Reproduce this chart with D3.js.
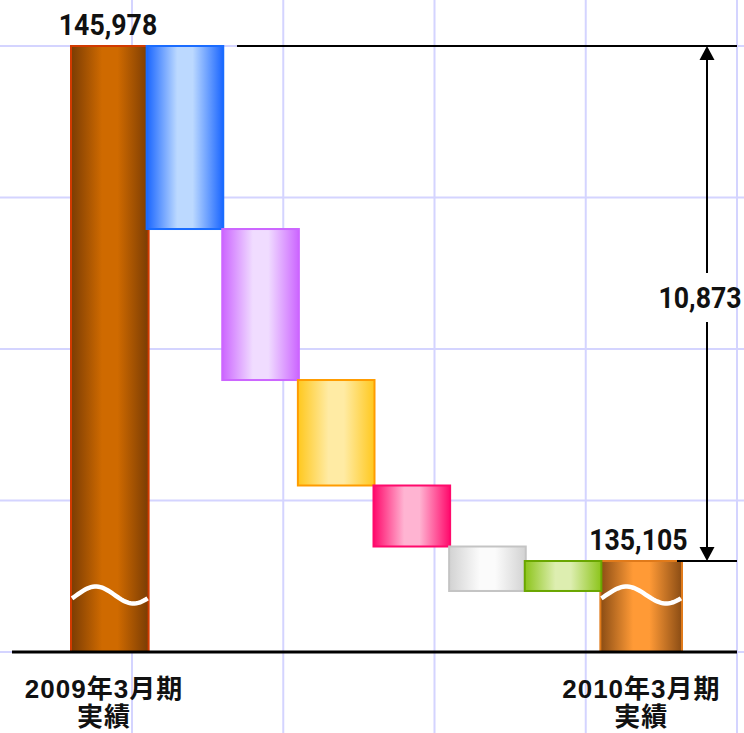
<!DOCTYPE html>
<html>
<head>
<meta charset="utf-8">
<script src="https://cdn.jsdelivr.net/npm/d3@7"></script>
<style>
  body { margin: 0; background: #fff; }
  svg { display: block; }
</style>
</head>
<body>
<svg width="744" height="733"></svg>
<script>
var svg = d3.select('svg');

// data
var startLabel = ['2009年3月期', '実績'];
var endLabel = ['2010年3月期', '実績'];
var startValue = 145978;
var endValue = 135105;
var changes = [-3864, -3188, -2227, -1288, -939, 633];
var stepColors = [
    {edge: '#1a66ff', mid: '#bcd9ff', line: '#1a6cff'},
    {edge: '#cc66ff', mid: '#f0dcff', line: '#cc66ff'},
    {edge: '#ffc81e', mid: '#ffeba4', line: '#ff9c00'},
    {edge: '#ff0a6c', mid: '#ffb4d2', line: '#ff0a6c'},
    {edge: '#d2d2d2', mid: '#fbfbfb', line: '#c4c4c4'},
    {edge: '#8cc41a', mid: '#ddeeb0', line: '#6aa600'}
];

var baseY = 652;

// y scale (axis is broken, bars are cut with a wave)
var y = d3.scaleLinear()
    .domain([endValue, startValue])
    .range([561, 46]);

var x = d3.scaleBand()
    .domain(d3.range(8))
    .range([71, 676])
    .padding(0);

// decorative grid
var gx = d3.scaleLinear().domain([0, 4]).range([132, 737]);
var gy = d3.scaleLinear().domain([0, 4]).range([652, 46]);

svg.selectAll('.vgrid')
    .data(d3.range(5))
    .enter()
    .append('line')
    .attr('x1', function(d){ return gx(d); })
    .attr('x2', function(d){ return gx(d); })
    .attr('y1', 0)
    .attr('y2', 733)
    .attr('stroke', '#d4d4ff')
    .attr('stroke-width', 2);

svg.selectAll('.hgrid')
    .data(d3.range(5))
    .enter()
    .append('line')
    .attr('x1', 0)
    .attr('x2', 744)
    .attr('y1', function(d){ return gy(d); })
    .attr('y2', function(d){ return gy(d); })
    .attr('stroke', '#d4d4ff')
    .attr('stroke-width', 2);

// gradients
var defs = svg.append('defs');
function makeGrad(id, edge, mid){
    var g = defs.append('linearGradient')
        .attr('id', id)
        .attr('x1', '0%').attr('x2', '100%')
        .attr('y1', '0%').attr('y2', '0%');
    g.append('stop').attr('offset', '0%').attr('stop-color', edge);
    g.append('stop').attr('offset', '40%').attr('stop-color', mid);
    g.append('stop').attr('offset', '60%').attr('stop-color', mid);
    g.append('stop').attr('offset', '100%').attr('stop-color', edge);
}
makeGrad('gStart', '#7a3c04', '#cf6a00');
makeGrad('gEnd', '#8a4c14', '#ff9a36');
stepColors.forEach(function(c, i){
    makeGrad('g' + i, c.edge, c.mid);
});

// build step data
var running = startValue;
var steps = changes.map(function(v, i){
    var from = running;
    running = running + v;
    return {i: i + 1, from: from, to: running, c: stepColors[i]};
});

var bw = x.bandwidth();

// total bars
var totals = [
    {i: 0, v: startValue, fill: 'url(#gStart)', line: '#d23a00', w: bw + 2},
    {i: 7, v: endValue, fill: 'url(#gEnd)', line: '#e07a1a', w: bw + 6}
];

svg.selectAll('.total')
    .data(totals)
    .enter()
    .append('rect')
    .attr('x', function(d){ return x(d.i); })
    .attr('y', function(d){ return y(d.v); })
    .attr('width', function(d){ return d.w; })
    .attr('height', function(d){ return baseY - y(d.v); })
    .attr('fill', function(d){ return d.fill; })
    .attr('stroke', function(d){ return d.line; })
    .attr('stroke-width', 2);

// wave break
svg.selectAll('.wave')
    .data(totals)
    .enter()
    .append('path')
    .attr('d', function(d){
        var x0 = x(d.i), pts = [];
        for (var k = 0; k <= 40; k++) {
            var px = x0 + 1 + (d.w - 2) * k / 40;
            pts.push([px, 595 - 8.5 * Math.sin(2 * Math.PI * (k / 40) - 0.4)]);
        }
        return d3.line()(pts);
    })
    .attr('fill', 'none')
    .attr('stroke', '#fff')
    .attr('stroke-width', 4.5);

// step bars
svg.selectAll('.step')
    .data(steps)
    .enter()
    .append('rect')
    .attr('x', function(d){ return x(d.i); })
    .attr('y', function(d){ return y(Math.max(d.from, d.to)); })
    .attr('width', bw + 1)
    .attr('height', function(d){ return Math.abs(y(d.to) - y(d.from)); })
    .attr('fill', function(d){ return 'url(#g' + (d.i - 1) + ')'; })
    .attr('stroke', function(d){ return d.c.line; })
    .attr('stroke-width', 2);

// baseline
svg.append('line')
    .attr('x1', 12).attr('x2', 737)
    .attr('y1', baseY).attr('y2', baseY)
    .attr('stroke', '#000')
    .attr('stroke-width', 3);

// difference marker
var ax = 707;
svg.append('line')
    .attr('x1', 237).attr('x2', 737)
    .attr('y1', y(startValue)).attr('y2', y(startValue))
    .attr('stroke', '#000').attr('stroke-width', 2);
svg.append('line')
    .attr('x1', 677).attr('x2', 737)
    .attr('y1', y(endValue)).attr('y2', y(endValue))
    .attr('stroke', '#000').attr('stroke-width', 2);

svg.append('line')
    .attr('x1', ax).attr('x2', ax)
    .attr('y1', y(startValue) + 12).attr('y2', 273)
    .attr('stroke', '#000').attr('stroke-width', 2);
svg.append('line')
    .attr('x1', ax).attr('x2', ax)
    .attr('y1', 322).attr('y2', y(endValue) - 12)
    .attr('stroke', '#000').attr('stroke-width', 2);
svg.append('path')
    .attr('d', 'M' + ax + ',' + y(startValue) + 'l-7.5,14h15z')
    .attr('fill', '#000');
svg.append('path')
    .attr('d', 'M' + ax + ',' + y(endValue) + 'l-7.5,-14h15z')
    .attr('fill', '#000');

// value labels
function numLabel(cx, by, txt){
    svg.append('text')
        .attr('transform', 'translate(' + cx + ',' + by + ') scale(0.89,1)')
        .attr('text-anchor', 'middle')
        .attr('font-family', 'Roboto, sans-serif')
        .attr('font-weight', 'bold')
        .attr('font-size', 30)
        .attr('fill', '#111')
        .text(txt);
}
var fmt = d3.format(',');
numLabel(x(0) + 37, y(startValue) - 11, fmt(startValue));
numLabel(x(7) + 38, y(endValue) - 11, fmt(endValue));
numLabel(700, 308, fmt(startValue - endValue));

// category labels
function catLabel(cx, lines){
    var t = svg.append('text')
        .attr('text-anchor', 'middle')
        .attr('font-family', '"Liberation Sans", "Noto Sans CJK JP", sans-serif')
        .attr('font-weight', 'bold')
        .attr('font-size', 26)
        .attr('letter-spacing', 1)
        .attr('fill', '#111');
    t.selectAll('tspan')
        .data(lines)
        .enter()
        .append('tspan')
        .attr('x', cx)
        .attr('y', function(d, i){ return 698 + i * 28; })
        .text(function(d){ return d; });
}
catLabel(x(0) + 33, startLabel);
catLabel(x(7) + 41, endLabel);
</script>
</body>
</html>
